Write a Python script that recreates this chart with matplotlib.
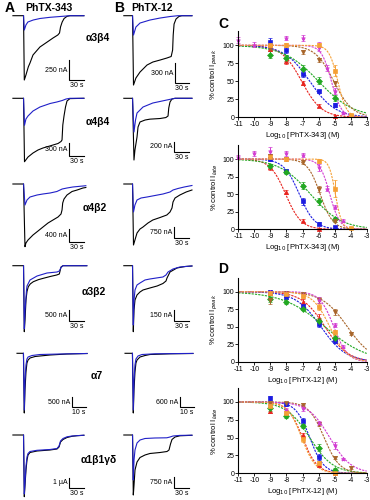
import numpy as np
import matplotlib
matplotlib.use("Agg")
import matplotlib.pyplot as plt

plt.rcParams['font.family'] = ['Liberation Sans', 'DejaVu Sans']
plt.rcParams['axes.unicode_minus'] = False

# ---------------- current traces (time s, current nA) ----------------
receptors = ["α3β4", "α4β4", "α4β2", "α3β2", "α7", "α1β1γδ"]

a1_black_t = [-23, -1, 0.6, 4, 9, 12.4, 18.6, 33, 48, 60, 70, 73.5, 75.6, 79, 83, 89, 95, 124]
a1_black_i = [0, 0, -804, -741, -638, -591, -491, -391, -329, -279, -241, -216, -141, -79, -35, -8, 0, 0]
a1_blue_t = [-1, 0.6, 4, 8, 19, 33, 54, 75, 87, 95, 124]
a1_blue_i = [0, -179, -116, -79, -54, -35, -20, -10, -4, 0, 0]
b1_black_t = [-19, -1, 1, 6, 14.5, 29, 41, 56, 70, 79, 82, 83.2, 85, 89, 95, 101, 122]
b1_black_i = [0, 0, -1040, -935, -845, -740, -695, -665, -635, -612, -515, -290, -125, -50, -12, 0, 0]
b1_blue_t = [-1, 1, 6, 14.5, 35, 56, 77, 93, 122]
b1_blue_i = [0, -290, -170, -110, -65, -35, -12, 0, 0]

a2_black_t = [-23, -1, 1, 8.3, 18.6, 29, 39.3, 49.7, 60, 70.4, 76.6, 78.7, 80.3, 82.8, 85.9, 89, 95, 124]
a2_black_i = [0, 0, -1427, -1321, -1231, -1163, -1118, -1085, -1051, -1017, -972, -938, -601, -398, -196, -61, -7, 0]
a2_blue_t = [-1, 1, 4, 8.3, 18.6, 33, 54, 68, 79, 87, 95, 124]
a2_blue_i = [0, -607, -466, -398, -286, -196, -117, -83, -50, -16, 0, 0]
b2_black_t = [-19, -1, 2, 4, 8.3, 10.4, 14.5, 25, 35, 56, 68, 72.5, 74, 76.6, 80.7, 87, 122]
b2_black_i = [0, 0, -1154, -967, -724, -537, -443, -406, -390, -378, -360, -331, -181, -69, -13, 0, 0]
b2_blue_t = [-1, 2, 5.2, 8.3, 20.7, 41, 70, 87, 122]
b2_blue_i = [0, -630, -406, -275, -163, -88, -32, 0, 0]

a3_black_t = [-23, -1, 2, 4, 8.3, 18.6, 29, 39.3, 49.7, 60, 70.4, 76.6, 78.7, 80.1, 82.8, 89, 99.4, 110, 122, 128]
a3_black_i = [0, 0, -1881, -1770, -1680, -1530, -1410, -1290, -1170, -1080, -990, -900, -780, -570, -450, -330, -225, -180, -120, -105]
a3_blue_t = [-1, 2, 6.2, 12.4, 27, 39, 54, 68, 79, 89, 101, 122, 128]
a3_blue_i = [0, -630, -480, -390, -330, -300, -270, -225, -150, -120, -90, -60, -51]
b3_black_t = [-19, -1, 1, 4, 8.3, 14.5, 20.7, 31, 41, 56, 70, 76.6, 80.7, 82.8, 87, 97, 110, 122]
b3_black_i = [0, 0, -3904, -3584, -3136, -2880, -2752, -2496, -2304, -2144, -1984, -1792, -1536, -1152, -896, -704, -512, -384]
b3_blue_t = [-1, 1, 4, 8.3, 16.6, 29, 45.5, 62, 76.6, 82.8, 93, 106, 122]
b3_blue_i = [0, -1792, -1344, -1024, -896, -832, -736, -640, -512, -384, -288, -192, -96]

a4_black_t = [-23, -1, 0.6, 2.1, 4.1, 6.2, 8.9, 13, 19.3, 30, 40, 55, 67.7, 73.1, 76.6, 80.7, 130]
a4_black_i = [0, 0, -3082, -2536, -1602, -1200, -981, -850, -747, -650, -588, -500, -434, -388, -61, 0, 0]
a4_blue_t = [-1, 0.6, 2.1, 5.2, 6.2, 12.4, 27, 47.6, 68.3, 73.1, 76.6, 80.7, 130]
a4_blue_i = [0, -2950, -2070, -1135, -948, -668, -481, -341, -294, -248, -84, 0, 0]
b4_black_t = [-19, -1, 0.6, 2.1, 4.1, 8.3, 14.5, 20.7, 35, 50, 62, 68.3, 70.4, 76.6, 91, 108, 122]
b4_black_i = [0, 0, -924, -620, -480, -410, -368, -340, -312, -284, -249, -214, -172, -88, -32, -11, -4]
b4_blue_t = [-1, 0.6, 2.1, 4.1, 8.3, 14.5, 24.8, 35, 62, 68.3, 72.5, 82.8, 97, 122]
b4_blue_i = [0, -830, -480, -340, -270, -242, -200, -186, -158, -130, -88, -46, -18, -4]

a5_black_t = [-5, -0.4, 0.2, 0.7, 1.4, 2.1, 2.9, 4.3, 7.9, 11.4, 18.6, 30.7, 45]
a5_black_i = [0, 0, -2985, -1835, -935, -485, -335, -235, -160, -135, -85, -35, -10]
a5_blue_t = [-0.4, 0.2, 0.7, 1.4, 2.1, 2.9, 5.7, 11.4, 25.7, 45]
a5_blue_i = [0, -2835, -1335, -585, -285, -185, -110, -60, -35, -10]
b5_black_t = [-5.7, -0.4, 0.2, 0.7, 1.4, 2.1, 2.9, 5, 8.6, 12.1, 26.4, 42.8]
b5_black_i = [0, 0, -3582, -2200, -1120, -580, -400, -222, -132, -72, -30, -12]
b5_blue_t = [-0.4, 0.2, 0.7, 1.4, 2.1, 3.6, 6.4, 15.7, 42.8]
b5_blue_i = [0, -3400, -1600, -700, -340, -160, -72, -30, -6]

a6_black_t = [-23, -1, 0.6, 2.1, 4.1, 6.2, 8.3, 12.4, 26.9, 53.8, 68.3, 72.5, 75.6, 80.7, 89, 99.4, 109.7, 124]
a6_black_i = [0, 0, -6170, -5000, -3500, -2500, -2000, -1750, -1600, -1500, -1400, -1200, -700, -450, -250, -130, -70, -30]
a6_blue_t = [-1, 0.6, 2.1, 4.1, 6.2, 8.3, 12.4, 26.9, 53.8, 68.3, 72.5, 75.6, 80.7, 89, 99.4, 124]
a6_blue_i = [0, -5900, -4700, -3100, -2200, -1850, -1650, -1530, -1450, -1350, -1100, -600, -350, -180, -100, -20]
b6_black_t = [-19, -1, 0.6, 2.1, 4.1, 8.3, 14.5, 24.8, 35, 56, 70.4, 74.5, 77.6, 80.7, 87, 97, 122]
b6_black_i = [0, 0, -4080, -3400, -2380, -1836, -1530, -1360, -1258, -1190, -1122, -1020, -612, -306, -136, -54, -20]
b6_blue_t = [-1, 0.6, 2.1, 4.1, 8.3, 14.5, 24.8, 45, 70, 76.6, 82.8, 97, 122]
b6_blue_i = [0, -3060, -1700, -1020, -544, -340, -238, -204, -190, -136, -68, -27, -14]

# scale bars: current (nA), time (s), labels
scale_nA_A = [250, 300, 400, 500, 500, 1000]
scale_nA_B = [300, 200, 750, 150, 600, 750]
scale_lbl_A = ["250 nA", "300 nA", "400 nA", "500 nA", "500 nA", "1 µA"]
scale_lbl_B = ["300 nA", "200 nA", "750 nA", "150 nA", "600 nA", "750 nA"]
scale_s = [30, 30, 30, 30, 10, 30]

# ---------------- concentration-response data ----------------
log_conc_label_343 = "Log$_{10}$ [PhTX-343] (M)"
log_conc_label_12 = "Log$_{10}$ [PhTX-12] (M)"
series_colors = ['#e8231e', '#1c1ce0', '#22a822', '#a8652a', '#d23cd2', '#f5a035']
series_markers = ['^', 's', 'D', 'v', '*', 's']

# C top: PhTX-343, I_peak
c1_x = [[-9, -8, -7, -6, -5], [-9, -8, -7, -6, -5], [-9, -8, -7, -6, -5],
        [-9, -7, -6, -5], [-11, -10, -8, -7, -6, -5.5, -5, -4.5], [-9, -8, -6, -5, -4]]
c1_y = [[95, 78, 48, 16, 2], [105, 93, 60, 36, 17], [87, 82, 67, 51, 27],
        [96, 91, 80, 47], [107, 101, 110, 110, 98, 68, 37, 6], [100, 100, 100, 65, 3]]
c1_e = [[3, 4, 3, 2, 1], [5, 4, 4, 2, 3], [5, 4, 6, 5, 4],
        [3, 3, 3, 3], [4, 4, 3, 4, 6, 4, 4, 2], [2, 3, 3, 7, 1]]
c1_ic50 = [-7.05, -6.55, -6.0, -5.05, -5.2, -4.8]
c1_nh = [0.7, 0.55, 0.4, 0.75, 1.4, 1.6]

# C bottom: PhTX-343, I_late
c2_x = [[-9, -8, -7, -6], [-9, -8, -7, -6, -5], [-9, -8, -7, -6, -5],
        [-9, -8, -7, -6, -5], [-11, -10, -9, -8, -7, -6, -5.5, -5, -4.5], [-9, -8, -6, -5, -4]]
c2_y = [[88, 53, 12, 0], [100, 83, 40, 8, 3], [90, 82, 62, 40, 14],
        [104, 100, 96, 57, 12], [103, 108, 112, 108, 106, 88, 58, 32, 12], [103, 100, 97, 58, 2]]
c2_e = [[4, 3, 2, 1], [3, 3, 5, 2, 1], [3, 3, 5, 5, 3],
        [3, 3, 3, 4, 2], [3, 3, 5, 4, 3, 5, 3, 3, 2], [3, 3, 3, 12, 1]]
c2_ic50 = [-8.05, -7.2, -6.5, -5.9, -5.3, -4.95]
c2_nh = [0.9, 0.9, 0.45, 1.1, 1.4, 2.2]

# D top: PhTX-12, I_peak
d1_x = [[-9, -8, -7, -6, -5], [-9, -8, -7, -6, -5], [-9, -8, -7, -6, -5],
        [-9, -8, -7, -6, -5, -4], [-9, -8, -7, -6, -5, -4.5], [-9, -8, -7, -6, -5]]
d1_y = [[98, 95, 85, 63, 33], [100, 93, 80, 54, 30], [89, 86, 76, 59, 34],
        [88, 98, 96, 88, 71, 40], [100, 98, 95, 88, 53, 22], [98, 96, 94, 78, 42]]
d1_e = [[2, 3, 4, 5, 3], [3, 3, 3, 4, 3], [4, 3, 2, 3, 3],
        [5, 2, 2, 4, 4, 2], [2, 3, 3, 4, 3, 2], [2, 2, 3, 4, 4]]
d1_ic50 = [-5.6, -5.85, -5.6, -4.2, -5.05, -5.3]
d1_nh = [0.6, 0.55, 0.33, 0.55, 1.0, 0.8]

# D bottom: PhTX-12, I_late
d2_x = [[-9, -8, -7, -6, -5], [-9, -8, -7, -6, -5], [-9, -8, -7, -6, -5],
        [-9, -8, -7, -6, -5, -4], [-9, -8, -7, -6, -5, -4.5], [-9, -8, -7, -6, -5]]
d2_y = [[88, 84, 53, 12, 1], [106, 97, 73, 23, 2], [92, 81, 66, 36, 5],
        [98, 98, 96, 69, 22, 8], [95, 89, 92, 71, 39, 20], [95, 85, 48, 15, 1]]
d2_e = [[3, 3, 3, 2, 1], [3, 3, 4, 4, 1], [4, 4, 3, 5, 2],
        [2, 2, 2, 3, 2, 2], [3, 3, 4, 3, 5, 2], [3, 3, 4, 2, 1]]
d2_ic50 = [-7.0, -6.55, -6.55, -5.65, -5.3, -7.05]
d2_nh = [0.95, 1.0, 0.6, 0.9, 0.65, 1.0]

# ---------------- figure ----------------
W, H = 370, 500
fig = plt.figure(figsize=(W / 100, H / 100), dpi=100)


def box(l, t, r, b):
    return [l / W, 1 - b / H, (r - l) / W, (b - t) / H]


row_base = [15.7, 98.3, 184, 265.7, 353.3, 435]
k_A = [12.5, 22.5, 30, 46.7, 50, 100]
k_B = [15, 18.7, 64, 14, 60, 68]
bar_A = [(93.2, -804), (93.2, -1298), (93.2, -1740), (93.2, -2569), (34.3, -2685), (93.2, -5300)]
bar_B = [(86.9, -1010), (84.9, -1010), (84.9, -3475), (84.9, -770), (33.6, -3222), (84.9, -3604)]
label_pos = [(98, 38), (98, 122), (95, 208), (94, 292), (97, 376), (99, 460)]

traces = [
    ((a1_black_t, a1_black_i, a1_blue_t, a1_blue_i), (b1_black_t, b1_black_i, b1_blue_t, b1_blue_i)),
    ((a2_black_t, a2_black_i, a2_blue_t, a2_blue_i), (b2_black_t, b2_black_i, b2_blue_t, b2_blue_i)),
    ((a3_black_t, a3_black_i, a3_blue_t, a3_blue_i), (b3_black_t, b3_black_i, b3_blue_t, b3_blue_i)),
    ((a4_black_t, a4_black_i, a4_blue_t, a4_blue_i), (b4_black_t, b4_black_i, b4_blue_t, b4_blue_i)),
    ((a5_black_t, a5_black_i, a5_blue_t, a5_blue_i), (b5_black_t, b5_black_i, b5_blue_t, b5_blue_i)),
    ((a6_black_t, a6_black_i, a6_blue_t, a6_blue_i), (b6_black_t, b6_black_i, b6_blue_t, b6_blue_i)),
]

for r in range(6):
    base = row_base[r]
    for col, (x0, x1, k, bar, nA, lbl) in enumerate([
            (10, 90, k_A[r], bar_A[r], scale_nA_A[r], scale_lbl_A[r]),
            (119, 199, k_B[r], bar_B[r], scale_nA_B[r], scale_lbl_B[r])]):
        ax = fig.add_axes(box(x0, base - 12, x1, base + 72))
        ax.axis('off')
        ax.set_ylim(-72 * k, 12 * k)
        if scale_s[r] == 10:
            ax.set_xlim(-10, 47.1)
        else:
            ax.set_xlim(-29, 136.6)
        bt, bi, ut, ui = traces[r][col]
        ax.plot(bt, bi, color='black', lw=0.8, clip_on=False, solid_joinstyle='round')
        ax.plot(ut, ui, color='#2020c8', lw=0.8, clip_on=False, solid_joinstyle='round')
        bx, by = bar
        ax.plot([bx, bx, bx + scale_s[r]], [by + nA, by, by], color='black', lw=0.8,
                clip_on=False, solid_joinstyle='miter')
        ax.annotate(lbl, (bx, by + nA / 2), xytext=(-1, 0), textcoords='offset points',
                    ha='right', va='center', fontsize=5)
        ax.annotate(f"{scale_s[r]} s", (bx + scale_s[r] / 2, by), xytext=(0, -1.5),
                    textcoords='offset points', ha='center', va='top', fontsize=5)
    fig.text(label_pos[r][0] / W, 1 - label_pos[r][1] / H, receptors[r],
             ha='center', va='center', fontsize=7.5, fontweight='bold')

fig.text(5 / W, 1 - 8 / H, "A", fontsize=10, fontweight='bold', ha='left', va='center')
fig.text(49 / W, 1 - 8 / H, "PhTX-343", fontsize=7.5, fontweight='bold', ha='center', va='center')
fig.text(114 / W, 1 - 8 / H, "B", fontsize=10, fontweight='bold', ha='left', va='center')
fig.text(152 / W, 1 - 8 / H, "PhTX-12", fontsize=7.5, fontweight='bold', ha='center', va='center')
fig.text(218 / W, 1 - 24 / H, "C", fontsize=10, fontweight='bold', ha='left', va='center')
fig.text(218 / W, 1 - 269 / H, "D", fontsize=10, fontweight='bold', ha='left', va='center')

# concentration-response panels
panels = [
    (c1_x, c1_y, c1_e, c1_ic50, c1_nh, log_conc_label_343, "% control I$_{peak}$", (30.9, 117.3)),
    (c2_x, c2_y, c2_e, c2_ic50, c2_nh, log_conc_label_343, "% control I$_{late}$", (145, 229.3)),
    (d1_x, d1_y, d1_e, d1_ic50, d1_nh, log_conc_label_12, "% control I$_{peak}$", (277.6, 362)),
    (d2_x, d2_y, d2_e, d2_ic50, d2_nh, log_conc_label_12, "% control I$_{late}$", (387.7, 473.3)),
]
xfit = np.linspace(-11, -3, 300)
for xs, ys, es, ic50, nh, xl, yl, (top, bot) in panels:
    ax = fig.add_axes(box(238.3, top, 366.7, bot))
    ax.set_xlim(-11, -3)
    ax.set_ylim(0, 120)
    for s in ('top', 'right'):
        ax.spines[s].set_visible(False)
    for s in ('left', 'bottom'):
        ax.spines[s].set_linewidth(0.8)
    ax.spines['left'].set_bounds(0, 120)
    ax.set_xticks(range(-11, -2))
    ax.set_xticklabels([str(v) for v in range(-11, -2)])
    ax.set_yticks([0, 25, 50, 75, 100])
    ax.tick_params(labelsize=5, length=2, width=0.6, pad=1)
    ax.set_xlabel(xl, fontsize=5.5, labelpad=1)
    ax.set_ylabel(yl, fontsize=5.5, labelpad=2)
    for i in range(6):
        c = series_colors[i]
        yfit = 100 / (1 + 10 ** ((xfit - ic50[i]) * nh[i]))
        ax.plot(xfit, yfit, color=c, lw=0.8, ls=(0, (2, 1)), clip_on=False)
        ax.errorbar(xs[i], ys[i], yerr=es[i], fmt=series_markers[i], color=c, ms=3,
                    mew=0.5, elinewidth=0.7, capsize=1.2, capthick=0.7, clip_on=False)

fig.savefig("out.png", dpi=100)
